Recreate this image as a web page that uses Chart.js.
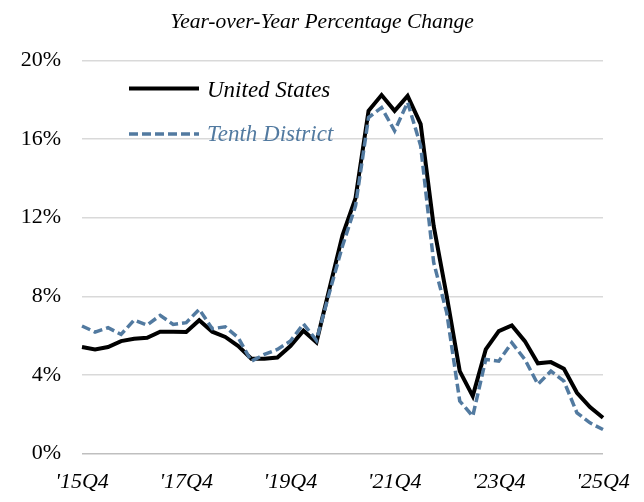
<!DOCTYPE html>
<html>
<head>
<meta charset="utf-8">
<script src="https://cdn.jsdelivr.net/npm/chart.js@4.4.1/dist/chart.umd.min.js"></script>
<style>
  html, body { margin: 0; padding: 0; background: #ffffff; }
  #wrap { width: 644px; height: 502px; position: relative; }
</style>
</head>
<body>
<div id="wrap"><canvas id="c"></canvas></div>
<script>
// Quarterly categories 2015Q4 .. 2025Q4
const quarters = [
  "15Q4","16Q1","16Q2","16Q3","16Q4","17Q1","17Q2","17Q3","17Q4",
  "18Q1","18Q2","18Q3","18Q4","19Q1","19Q2","19Q3","19Q4",
  "20Q1","20Q2","20Q3","20Q4","21Q1","21Q2","21Q3","21Q4",
  "22Q1","22Q2","22Q3","22Q4","23Q1","23Q2","23Q3","23Q4",
  "24Q1","24Q2","24Q3","24Q4","25Q1","25Q2","25Q3","25Q4"
];
const tickQuarters = ["15Q4","17Q4","19Q4","21Q4","23Q4","25Q4"];

const unitedStates = [
  5.42, 5.30, 5.42, 5.72, 5.84, 5.89, 6.20, 6.20, 6.18,
  6.78, 6.20, 5.93, 5.47, 4.82, 4.82, 4.88, 5.47,
  6.25, 5.66, 8.40, 11.10, 13.00, 17.44, 18.24, 17.44,
  18.20, 16.76, 11.58, 8.02, 4.19, 2.92, 5.30, 6.23,
  6.52, 5.72, 4.59, 4.65, 4.31, 3.09, 2.36, 1.82
];
const tenthDistrict = [
  6.49, 6.18, 6.40, 6.06, 6.79, 6.54, 7.03, 6.57, 6.66,
  7.34, 6.35, 6.45, 5.89, 4.70, 5.04, 5.30, 5.72,
  6.60, 5.76, 8.20, 10.56, 12.60, 17.10, 17.60, 16.42,
  17.87, 15.66, 9.72, 7.17, 2.67, 1.90, 4.79, 4.70,
  5.64, 4.79, 3.52, 4.19, 3.68, 2.07, 1.56, 1.22
];

const seriesNames = ["United States", "Tenth District"];
const titleText = "Year-over-Year Percentage Change";

const BLUE = "#527aa0";
const SERIF = "'Liberation Serif', 'DejaVu Serif', serif";

const titleAndLegendPlugin = {
  id: "titleAndLegend",
  afterDraw(chart) {
    const ctx = chart.ctx;
    ctx.save();
    // title, centred on the canvas
    ctx.fillStyle = "#000000";
    ctx.font = "italic 21.5px " + SERIF;
    ctx.textAlign = "center";
    ctx.textBaseline = "alphabetic";
    ctx.fillText(titleText, chart.width / 2, 28);

    // legend inside the plot
    const items = chart.data.datasets;
    const rows = [88.5, 134];
    const baselines = [96.5, 141];
    items.forEach((ds, k) => {
      ctx.beginPath();
      ctx.lineWidth = ds.borderWidth;
      ctx.strokeStyle = ds.borderColor;
      ctx.setLineDash(ds.borderDash || []);
      ctx.moveTo(129, rows[k]);
      ctx.lineTo(199, rows[k]);
      ctx.stroke();
      ctx.setLineDash([]);
      ctx.fillStyle = k === 0 ? "#000000" : BLUE;
      ctx.font = "italic 23px " + SERIF;
      ctx.textBaseline = "alphabetic";
      ctx.textAlign = "left";
      ctx.fillText(ds.label, 207, baselines[k]);
    });
    ctx.restore();
  }
};

new Chart(document.getElementById("c"), {
  type: "line",
  data: {
    labels: quarters,
    datasets: [
      {
        label: seriesNames[0],
        data: unitedStates,
        borderColor: "#000000",
        borderWidth: 4,
        pointRadius: 0,
        tension: 0,
        order: 1
      },
      {
        label: seriesNames[1],
        data: tenthDistrict,
        borderColor: BLUE,
        borderWidth: 3.5,
        borderDash: [9, 4],
        pointRadius: 0,
        tension: 0,
        order: 0
      }
    ]
  },
  options: {
    responsive: true,
    maintainAspectRatio: false,
    animation: false,
    layout: { padding: { left: 12, right: 41, top: 60.5, bottom: 0 } },
    plugins: {
      legend: { display: false },
      tooltip: { enabled: false },
      title: { display: false }
    },
    scales: {
      x: {
        grid: { display: false },
        border: { display: false },
        afterFit(scale) { scale.height = 48.5; },
        ticks: {
          autoSkip: false,
          maxRotation: 0,
          minRotation: 0,
          padding: 8,
          color: "#000000",
          font: { family: SERIF, size: 22, style: "italic" },
          callback(value) {
            const q = quarters[value];
            return tickQuarters.includes(q) ? "'" + q : "";
          }
        }
      },
      y: {
        min: 0,
        max: 20,
        afterFit(scale) { scale.width = 70; },
        border: { display: false },
        grid: {
          drawTicks: false,
          lineWidth: 1.5,
          color(ctx) { return ctx.tick && ctx.tick.value === 0 ? "#bfbfbf" : "#d9d9d9"; }
        },
        ticks: {
          stepSize: 4,
          padding: 21,
          color: "#000000",
          font: { family: SERIF, size: 22 },
          callback(v) { return v + "%"; }
        }
      }
    }
  },
  plugins: [titleAndLegendPlugin]
});
</script>
</body>
</html>
